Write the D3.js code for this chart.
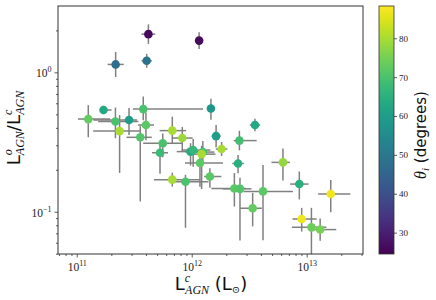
<!DOCTYPE html>
<html>
<head>
<meta charset="utf-8">
<script src="https://cdn.jsdelivr.net/npm/d3@7"></script>
<style>
  body { margin: 0; background: #fff; }
</style>
</head>
<body>
<svg id="svg" width="436" height="300"></svg>
<script>
const svg = d3.select("#svg");

// L^c_AGN in L_sun
const lumAGN = [
  4.2e11, 1.16e12, 2.18e11, 4.06e11, 1.26e11, 1.71e11, 2.17e11, 2.85e11, 3.79e11, 1.47e12,
  2.36e11, 3.57e11, 4.0e11, 5.6e11, 5.3e11, 6.78e11, 8.28e11, 9.77e11, 1.03e12, 1.25e12,
  1.22e12, 1.18e12, 1.63e12, 1.82e12, 3.55e12, 2.6e12, 2.53e12, 6.78e11, 8.83e11, 1.44e12,
  2.35e12, 2.63e12, 4.17e12, 3.39e12, 6.22e12, 8.63e12, 1.62e13, 9.05e12, 1.10e13, 1.31e13,
];
// L^o_AGN / L^c_AGN
const ratio = [
  1.88, 1.69, 1.14, 1.21, 0.462, 0.537, 0.444, 0.455, 0.545, 0.55,
  0.379, 0.342, 0.419, 0.31, 0.265, 0.382, 0.338, 0.27, 0.277, 0.268,
  0.259, 0.224, 0.349, 0.282, 0.419, 0.324, 0.222, 0.17, 0.164, 0.179,
  0.147, 0.146, 0.14, 0.106, 0.226, 0.158, 0.134, 0.0887, 0.0773, 0.0745,
];
// inclination theta_i (degrees)
const theta = [
  26, 26, 47, 48, 73, 63, 70, 60, 70, 58,
  80, 71, 72, 70, 68, 80, 79, 63, 67, 70,
  80, 72, 60, 80, 63, 69, 65, 80, 70, 72,
  72, 71, 72, 73, 78, 65, 87, 87, 74, 75,
];
// errors in dex (lower, upper)
const lumErrLo = [
  0.06, 0.03, 0.07, 0.045, 0.09, 0.03, 0.15, 0.31, 0.09, 0.03,
  0.23, 0.12, 0.07, 0.17, 0.07, 0.11, 0.09, 0.12, 0.1, 0.15,
  0.08, 0.13, 0.04, 0.05, 0.045, 0.05, 0.05, 0.16, 0.1, 0.05,
  0.2, 0.15, 0.17, 0.11, 0.1, 0.08, 0.11, 0.08, 0.17, 0.09,
];
const lumErrHi = [
  0.06, 0.03, 0.07, 0.045, 0.19, 0.07, 0.2, 0.07, 0.52, 0.03,
  0.18, 0.1, 0.07, 0.17, 0.07, 0.12, 0.09, 0.1, 0.15, 0.1,
  0.12, 0.2, 0.04, 0.05, 0.045, 0.15, 0.05, 0.24, 0.2, 0.1,
  0.1, 0.1, 0.26, 0.08, 0.06, 0.08, 0.17, 0.13, 0.13, 0.14,
];
const ratioErrLo = [
  0.07, 0.06, 0.09, 0.05, 0.13, 0.03, 0.12, 0.108, 0.08, 0.08,
  0.3, 0.46, 0.11, 0.1, 0.15, 0.09, 0.1, 0.1, 0.12, 0.08,
  0.25, 0.17, 0.08, 0.05, 0.045, 0.07, 0.07, 0.05, 0.33, 0.08,
  0.13, 0.37, 0.35, 0.13, 0.13, 0.11, 0.13, 0.09, 0.25, 0.08,
];
const ratioErrHi = [
  0.07, 0.06, 0.09, 0.05, 0.1, 0.03, 0.1, 0.086, 0.09, 0.07,
  0.115, 0.08, 0.09, 0.07, 0.07, 0.1, 0.08, 0.06, 0.08, 0.08,
  0.06, 0.09, 0.08, 0.05, 0.045, 0.07, 0.06, 0.05, 0.05, 0.06,
  0.11, 0.08, 0.19, 0.11, 0.1, 0.09, 0.1, 0.08, 0.14, 0.08,
];

const xTicks = [1e11, 1e12, 1e13];
const yTicks = [0.1, 1];
const cTicks = [30, 40, 50, 60, 70, 80];

const points = lumAGN.map((l, i) => ({
  l, r: ratio[i], t: theta[i],
  x0: l / 10 ** lumErrLo[i], x1: l * 10 ** lumErrHi[i],
  y0: ratio[i] / 10 ** ratioErrLo[i], y1: ratio[i] * 10 ** ratioErrHi[i],
}));

const plot = { left: 58, right: 363, top: 6, bottom: 254 };

const x = d3.scaleLog().domain([10 ** 10.837, 10 ** 13.49]).range([plot.left, plot.right]);
const y = d3.scaleLog().domain([10 ** -1.303, 10 ** 0.476]).range([plot.bottom, plot.top]);
const color = d3.scaleSequential(d3.interpolateViridis).domain([24.5, 88.3]);

const serif = "'Liberation Serif', 'DejaVu Serif', serif";
const sans = "'DejaVu Sans', sans-serif";

function minorTicks(scale) {
  const [a, b] = scale.domain();
  const out = [];
  for (let e = Math.floor(Math.log10(a)); e <= Math.ceil(Math.log10(b)); e++) {
    for (let m = 2; m <= 9; m++) {
      const v = m * 10 ** e;
      if (v >= a && v <= b) out.push(v);
    }
  }
  return out;
}

const clipY = (v) => Math.max(plot.top, Math.min(plot.bottom, y(v)));

// error bars
const bars = svg.append("g").attr("stroke", "#808080").attr("stroke-width", 1.5);
bars.selectAll("line.h").data(points).join("line")
  .attr("x1", (d) => x(d.x0)).attr("x2", (d) => x(d.x1))
  .attr("y1", (d) => y(d.r)).attr("y2", (d) => y(d.r));
bars.selectAll("line.v").data(points).join("line")
  .attr("x1", (d) => x(d.l)).attr("x2", (d) => x(d.l))
  .attr("y1", (d) => clipY(d.y0)).attr("y2", (d) => clipY(d.y1));

// markers
svg.append("g").selectAll("circle").data(points).join("circle")
  .attr("cx", (d) => x(d.l))
  .attr("cy", (d) => y(d.r))
  .attr("r", 4.3)
  .attr("fill", (d) => color(d.t));

// axes
function styleAxis(g) {
  g.select(".domain").remove();
  g.selectAll(".tick line").attr("stroke", "#333").attr("stroke-width", 0.8);
}

svg.append("g").attr("transform", `translate(0,${plot.bottom})`)
  .call(d3.axisBottom(x).tickValues(minorTicks(x)).tickSize(2).tickFormat(""))
  .call(styleAxis);
const xAxis = svg.append("g").attr("transform", `translate(0,${plot.bottom})`)
  .call(d3.axisBottom(x).tickValues(xTicks).tickSize(3.5).tickPadding(4))
  .call(styleAxis);

svg.append("g").attr("transform", `translate(${plot.left},0)`)
  .call(d3.axisLeft(y).tickValues(minorTicks(y)).tickSize(2).tickFormat(""))
  .call(styleAxis);
const yAxis = svg.append("g").attr("transform", `translate(${plot.left},0)`)
  .call(d3.axisLeft(y).tickValues(yTicks).tickSize(3.5).tickPadding(3))
  .call(styleAxis);

function powerLabel(sel) {
  sel.each(function (d) {
    const t = d3.select(this).text(null)
      .attr("font-family", serif).attr("fill", "#222");
    t.append("tspan").attr("font-size", 11.5).text("10");
    t.append("tspan").attr("font-size", 8).attr("dy", -5)
      .text(String(Math.round(Math.log10(d))).replace("-", "\u2212"));
  });
}
xAxis.selectAll(".tick text").attr("dy", "0.9em").call(powerLabel);
yAxis.selectAll(".tick text").attr("dy", "0.45em").call(powerLabel);

// frame
svg.append("rect")
  .attr("x", plot.left).attr("y", plot.top)
  .attr("width", plot.right - plot.left).attr("height", plot.bottom - plot.top)
  .attr("fill", "none").attr("stroke", "#333").attr("stroke-width", 1);

// x label
const xl = svg.append("text").attr("x", 211).attr("y", 290)
  .attr("text-anchor", "middle").attr("fill", "#111");
xl.append("tspan").attr("font-family", sans).attr("font-size", 18).text("L");
xl.append("tspan").attr("font-family", serif).attr("font-style", "italic").attr("font-size", 12).attr("dy", -8).text("c");
xl.append("tspan").attr("font-family", serif).attr("font-style", "italic").attr("font-size", 12).attr("dx", -5).attr("dy", 12).text("AGN");
xl.append("tspan").attr("font-family", sans).attr("font-size", 18).attr("dy", -4).text(" (L");
xl.append("tspan").attr("font-family", serif).attr("font-size", 10).attr("dy", 3).text("\u2299");
xl.append("tspan").attr("font-family", sans).attr("font-size", 18).attr("dy", -3).text(")");

// y label
const yl = svg.append("text").attr("transform", "translate(20,128) rotate(-90)")
  .attr("text-anchor", "middle").attr("fill", "#111");
yl.append("tspan").attr("font-family", sans).attr("font-size", 18).text("L");
yl.append("tspan").attr("font-family", serif).attr("font-style", "italic").attr("font-size", 12).attr("dy", -8).text("o");
yl.append("tspan").attr("font-family", serif).attr("font-style", "italic").attr("font-size", 12).attr("dx", -6).attr("dy", 12).text("AGN");
yl.append("tspan").attr("font-family", sans).attr("font-size", 18).attr("dy", -4).text("/L");
yl.append("tspan").attr("font-family", serif).attr("font-style", "italic").attr("font-size", 12).attr("dy", -8).text("c");
yl.append("tspan").attr("font-family", serif).attr("font-style", "italic").attr("font-size", 12).attr("dx", -5).attr("dy", 12).text("AGN");

// colorbar
const cb = { x: 379, w: 15 };
const grad = svg.append("defs").append("linearGradient")
  .attr("id", "viridis").attr("x1", 0).attr("y1", 1).attr("x2", 0).attr("y2", 0);
grad.selectAll("stop").data(d3.range(0, 1.0001, 0.05)).join("stop")
  .attr("offset", (d) => d)
  .attr("stop-color", (d) => d3.interpolateViridis(d));
svg.append("rect")
  .attr("x", cb.x).attr("y", plot.top).attr("width", cb.w).attr("height", plot.bottom - plot.top)
  .attr("fill", "url(#viridis)").attr("stroke", "#333").attr("stroke-width", 0.8);

const cScale = d3.scaleLinear().domain(color.domain()).range([plot.bottom, plot.top]);
svg.append("g").attr("transform", `translate(${cb.x + cb.w},0)`)
  .call(d3.axisRight(cScale).tickValues(cTicks).tickSize(3).tickPadding(2))
  .call(styleAxis)
  .selectAll(".tick text").attr("font-family", serif).attr("font-size", 9).attr("fill", "#222");

const cl = svg.append("text").attr("transform", "translate(426,135) rotate(-90)")
  .attr("text-anchor", "middle").attr("fill", "#111");
cl.append("tspan").attr("font-family", serif).attr("font-style", "italic").attr("font-size", 16).text("\u03b8");
cl.append("tspan").attr("font-family", serif).attr("font-style", "italic").attr("font-size", 11).attr("dy", 3).text("i");
cl.append("tspan").attr("font-family", sans).attr("font-size", 15).attr("dy", -3).text(" (degrees)");
</script>
</body>
</html>
